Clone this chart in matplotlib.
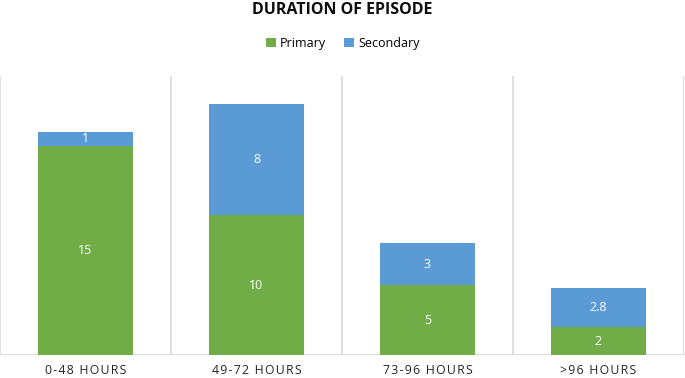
import matplotlib
matplotlib.use("Agg")
import matplotlib.pyplot as plt
import numpy as np

categories = ["0-48 HOURS", "49-72 HOURS", "73-96 HOURS", ">96 HOURS"]
primary = [15, 10, 5, 2]
secondary = [1, 8, 3, 2.8]

green = "#70AD47"
blue = "#5B9BD5"
grid_c = "#D9D9D9"

plt.rcParams['font.family'] = ['Open Sans', 'DejaVu Sans']


def spaced(s, sep="\u200a"):
    return sep.join(s)


fig = plt.figure(figsize=(6.85, 3.78), dpi=100)
ax = fig.add_axes([0.0, 0.0608, 0.9985, 0.7382])

x = np.arange(len(categories))
w = 0.56
ax.bar(x, primary, w, color=green, label="Primary", zorder=3)
ax.bar(x, secondary, w, bottom=primary, color=blue, label="Secondary", zorder=3)

for i in range(len(categories)):
    ax.text(x[i], primary[i] / 2, f"{primary[i]:g}", ha="center", va="center",
            color="white", fontsize=9, zorder=4)
    ax.text(x[i], primary[i] + secondary[i] / 2, f"{secondary[i]:g}", ha="center",
            va="center", color="white", fontsize=9, zorder=4)

ax.set_xlim(-0.5, len(categories) - 0.5)
ax.set_ylim(0, 20)
for b in np.arange(-0.5, len(categories), 1.0):
    ax.axvline(b, color=grid_c, lw=1.2, zorder=1)
for s in ax.spines.values():
    s.set_visible(False)
ax.axhline(0, color=grid_c, lw=1.2, zorder=2)
ax.set_yticks([])
ax.set_xticks(x)
ax.set_xticklabels([spaced(c) for c in categories], fontsize=8.8, color="#262626",
                   family=['Open Sans', 'DejaVu Sans'])
ax.tick_params(axis="x", length=0, pad=6.5)

fig.text(0.5, 0.974, "DURATION OF EPISODE", ha="center", va="center",
         fontsize=11.5, fontweight="bold", color="#0D0D0D")
fig.legend(loc="center", bbox_to_anchor=(0.5, 0.885), ncol=2, frameon=False,
           fontsize=9, handlelength=0.8, handleheight=0.8, handletextpad=0.3,
           columnspacing=1.5)

fig.savefig("out.png", dpi=100)
